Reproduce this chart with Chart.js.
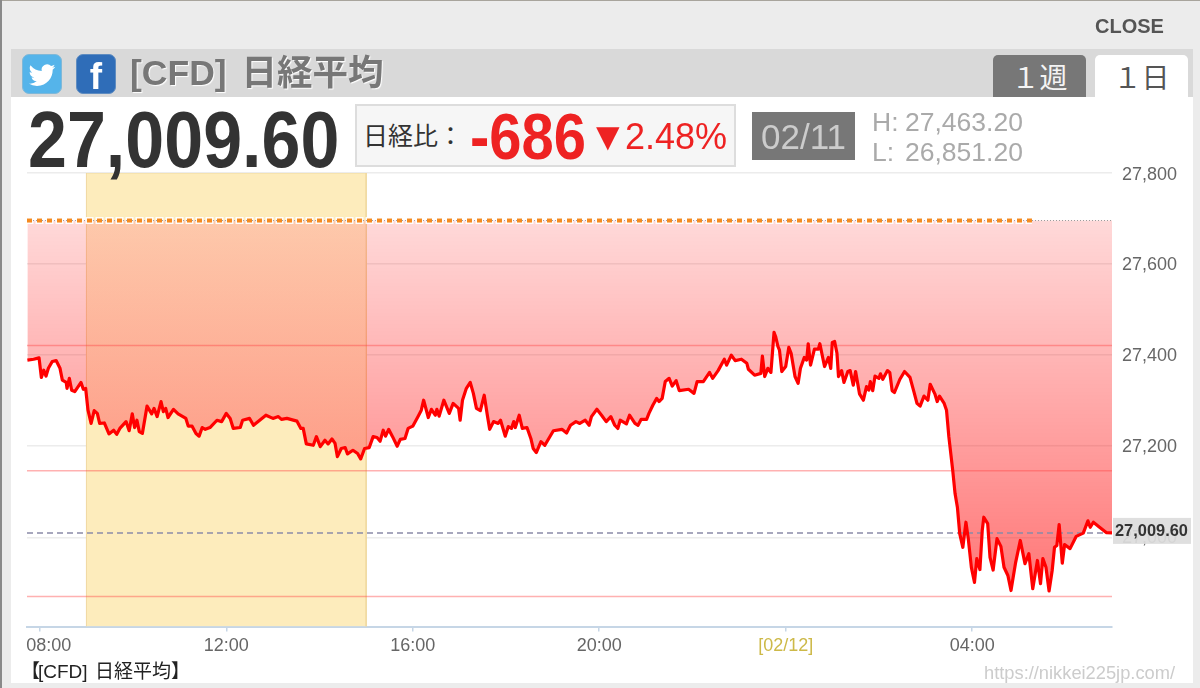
<!DOCTYPE html>
<html lang="ja">
<head>
<meta charset="utf-8">
<title>[CFD] 日経平均</title>
<script src="https://cdn.jsdelivr.net/npm/chart.js@4/dist/chart.umd.min.js"></script>
<style>
  html, body { margin: 0; padding: 0; background: #ececec; overflow: hidden; }
  body { width: 1200px; height: 688px; position: relative; font-family: "Liberation Sans", Arial, sans-serif; }
  .abs { position: absolute; white-space: nowrap; line-height: 1; }
  .jp { font-family: "Liberation Sans", "Noto Sans CJK JP", sans-serif; }
  #edgeTop { left: 0; top: 0; width: 1200px; height: 1px; background: #a8a49c; }
  #edgeLeft { left: 0; top: 0; width: 2px; height: 688px; background: #8a8a8a; }
  #strip { left: 11px; top: 49px; width: 1182px; height: 48px; background: #d9d9d9; }
  #panel { left: 11px; top: 97px; width: 1182px; height: 586px; background: #fff; }
  #chart { position: absolute; left: 0; top: 0; }
  #close { left: 1095px; top: 16px; font-size: 20px; font-weight: bold; color: #555; }
  .icon { width: 40px; height: 40px; top: 54px; border-radius: 7px; box-sizing: border-box; overflow: hidden; }
  #tw { left: 22px; background: #55b4ea; border: 1px solid #7fb8d8; }
  #fb { left: 76px; background: #2f6db8; border: 1px solid #5f8cc0; color: #fff; font-weight: bold; font-size: 37px; text-align: center; line-height: 44px; }
  #title { left: 130px; top: 56px; font-size: 35.5px; word-spacing: 5px; font-weight: bold; color: #777; text-shadow: 1px 1px 1px #fff; }
  .tab { top: 55px; width: 93px; height: 42px; border-radius: 5px 5px 0 0; font-size: 28px; text-align: center; line-height: 48px; }
  #tabWeek { left: 993px; background: #777; color: #f4f4f4; }
  #tabDay { left: 1095px; background: #fff; color: #555; }
  #price { left: 28px; top: 100px; font-size: 79px; font-weight: bold; color: #333; transform: scaleX(0.886); transform-origin: left top; }
  #diffBox { left: 355px; top: 104px; width: 381px; height: 63px; box-sizing: border-box; border: 2px solid #ddd; background: #f6f6f6; }
  #diffLabel { left: 363px; top: 124px; font-size: 25px; color: #333; }
  #diffVal { left: 470px; top: 105px; font-size: 64px; font-weight: bold; color: #ee2222; transform: scaleX(0.905); transform-origin: left top; }
  #diffArrow { left: 588px; top: 116px; font-size: 40px; color: #ee2222; }
  #diffPct { left: 625px; top: 119px; font-size: 36px; color: #ee2222; }
  #dateBox { left: 752px; top: 112px; width: 103px; height: 48px; background: #777; color: #ccc; font-size: 35px; text-align: center; line-height: 50px; }
  .hl { font-size: 26.5px; color: #aaa; }
  #foot { left: 21px; top: 662px; font-size: 19px; word-spacing: 2px; color: #222; }
  #foot span { margin-right: -2px; }
  #mark { left: 984px; top: 664px; font-size: 18.3px; color: #ccc; }
</style>
</head>
<body>
<div class="abs" id="edgeTop"></div>
<div class="abs" id="edgeLeft"></div>
<div class="abs" id="strip"></div>
<div class="abs" id="panel"></div>
<canvas id="chart" width="1200" height="688"></canvas>
<div class="abs" id="close">CLOSE</div>
<div class="abs icon" id="tw"><svg viewBox="-5 -6 34 34" width="38" height="38"><path fill="#fff" d="M23.95 4.57a10 10 0 0 1-2.83.79 4.93 4.93 0 0 0 2.16-2.72 9.86 9.86 0 0 1-3.13 1.2 4.92 4.92 0 0 0-8.38 4.48A13.98 13.98 0 0 1 1.67 3.15a4.92 4.92 0 0 0 1.52 6.57 4.9 4.9 0 0 1-2.23-.61v.06a4.92 4.92 0 0 0 3.95 4.83 4.9 4.9 0 0 1-2.22.08 4.93 4.93 0 0 0 4.6 3.42A9.87 9.87 0 0 1 0 19.54a13.94 13.94 0 0 0 7.55 2.21c9.05 0 14-7.5 14-14 0-.21 0-.42-.02-.63a10 10 0 0 0 2.42-2.55z"/></svg></div>
<div class="abs icon" id="fb">f</div>
<div class="abs jp" id="title">[CFD] 日経平均</div>
<div class="abs tab jp" id="tabWeek">１週</div>
<div class="abs tab jp" id="tabDay">１日</div>
<div class="abs" id="price">27,009.60</div>
<div class="abs" id="diffBox"></div>
<div class="abs jp" id="diffLabel">日経比：</div>
<div class="abs" id="diffVal">-686</div>
<div class="abs jp" id="diffArrow">▼</div>
<div class="abs" id="diffPct">2.48%</div>
<div class="abs" id="dateBox">02/11</div>
<div class="abs hl" style="left:872px;top:109px">H:</div>
<div class="abs hl" style="left:905px;top:109px">27,463.20</div>
<div class="abs hl" style="left:872px;top:139px">L:</div>
<div class="abs hl" style="left:905px;top:139px">26,851.20</div>
<div class="abs jp" id="foot"><span>【</span>[CFD] 日経平均】</div>
<div class="abs" id="mark">https://nikkei225jp.com/</div>

<script>
// minutes after 08:00 on 02/11
const times = [
  -16, -8, -1, 2, 5, 8, 11, 16, 21, 26, 29, 34, 35, 38, 41, 45, 53, 56, 59, 62,
  66, 70, 74, 77, 83, 89, 95, 99, 103, 111, 115, 119, 122, 125, 128, 132, 138, 144, 147, 151,
  156, 159, 162, 165, 172, 178, 188, 191, 196, 201, 205, 209, 213, 219, 228, 234, 240, 245, 249, 258,
  261, 270, 275, 283, 291, 300, 307, 311, 318, 331, 336, 339, 343, 352, 356, 361, 367, 371, 376, 380,
  383, 388, 393, 396, 403, 409, 413, 418, 424, 429, 434, 438, 442, 445, 449, 454, 460, 464, 470, 474,
  480, 487, 491, 494, 500, 504, 509, 511, 514, 520, 527, 532, 539, 541, 544, 549, 554, 558, 562, 567,
  572, 576, 579, 584, 590, 593, 599, 603, 607, 610, 612, 617, 621, 627, 632, 635, 639, 645, 650, 661,
  672, 678, 683, 690, 695, 702, 707, 710, 717, 723, 729, 735, 740, 744, 747, 755, 759, 766, 770, 774,
  781, 784, 789, 794, 797, 801, 805, 810, 814, 819, 823, 835, 842, 846, 854, 862, 866, 873, 881, 884,
  890, 895, 903, 910, 912, 920, 928, 930, 933, 937, 941, 945, 947, 950, 952, 955, 960, 964, 967, 972,
  976, 979, 984, 987, 989, 992, 997, 1002, 1004, 1010, 1015, 1018, 1020, 1023, 1026, 1028, 1032, 1035, 1040, 1043,
  1047, 1050, 1055, 1060, 1064, 1067, 1069, 1072, 1075, 1080, 1082, 1085, 1091, 1094, 1097, 1100, 1107, 1113, 1120, 1125,
  1129, 1133, 1138, 1143, 1146, 1152, 1155, 1158, 1164, 1167, 1170, 1175, 1178, 1181, 1184, 1188, 1192, 1195, 1199, 1203,
  1206, 1210, 1213, 1215, 1220, 1223, 1227, 1232, 1237, 1241, 1246, 1250, 1256, 1262, 1268, 1273, 1278, 1284, 1288, 1291,
  1295, 1299, 1303, 1306, 1309, 1312, 1316, 1319, 1326, 1334, 1343, 1349, 1352, 1356, 1364, 1373, 1380
];
const prices = [
  27389, 27391, 27394, 27351, 27367, 27354, 27371, 27386, 27388, 27371, 27345, 27340, 27327, 27349, 27323, 27320, 27340, 27325, 27327, 27279,
  27250, 27278, 27272, 27250, 27251, 27227, 27235, 27226, 27239, 27254, 27234, 27271, 27241, 27257, 27232, 27228, 27288, 27271, 27283, 27265,
  27298, 27276, 27283, 27263, 27281, 27271, 27261, 27244, 27244, 27228, 27222, 27241, 27237, 27241, 27257, 27254, 27272, 27261, 27239, 27241,
  27257, 27261, 27246, 27257, 27268, 27261, 27265, 27259, 27261, 27255, 27239, 27239, 27205, 27202, 27221, 27199, 27213, 27205, 27216, 27206,
  27177, 27195, 27197, 27183, 27191, 27184, 27172, 27195, 27197, 27221, 27219, 27211, 27235, 27222, 27237, 27221, 27200, 27215, 27217, 27239,
  27244, 27266, 27279, 27301, 27263, 27281, 27268, 27281, 27266, 27301, 27272, 27294, 27283, 27257, 27301, 27327, 27340, 27316, 27283, 27278,
  27312, 27268, 27237, 27254, 27250, 27257, 27222, 27243, 27239, 27254, 27241, 27268, 27239, 27241, 27217, 27195, 27186, 27210, 27202, 27234,
  27237, 27229, 27246, 27254, 27250, 27257, 27246, 27265, 27281, 27268, 27254, 27265, 27246, 27239, 27257, 27249, 27268, 27250, 27246, 27259,
  27259, 27272, 27290, 27305, 27298, 27305, 27342, 27349, 27332, 27344, 27322, 27325, 27316, 27342, 27342, 27362, 27349, 27366, 27391, 27378,
  27400, 27388, 27391, 27382, 27369, 27356, 27360, 27398, 27353, 27371, 27362, 27450, 27441, 27419, 27411, 27364, 27375, 27417, 27404, 27353,
  27338, 27371, 27395, 27389, 27425, 27378, 27413, 27413, 27425, 27375, 27395, 27371, 27428, 27430, 27404, 27353, 27366, 27340, 27364, 27366,
  27334, 27364, 27315, 27301, 27331, 27323, 27342, 27322, 27354, 27349, 27359, 27347, 27366, 27362, 27322, 27318, 27347, 27364, 27351, 27320,
  27294, 27288, 27310, 27301, 27336, 27315, 27298, 27310, 27294, 27279, 27221, 27147, 27096, 27066, 27008, 26978, 27033, 26997, 26934, 26901,
  26953, 26929, 27015, 27044, 27030, 26956, 26928, 26997, 26980, 26934, 26916, 26883, 26945, 26993, 26942, 26964, 26887, 26949, 26898, 26953,
  26934, 26882, 26927, 26978, 26982, 27028, 26943, 26984, 26975, 27002, 27009, 27036, 27022, 27033, 27022, 27010, 27009.6
];

const tickMinutes = [0, 240, 480, 720, 960, 1200];
const tickLabels = ["08:00", "12:00", "16:00", "20:00", "[02/12]", "04:00"];
const yTicks = [27000, 27200, 27400, 27600, 27800];

const axisStart = -16.5;
const axisEnd = 1380;
const axisLow = 26804;
const axisHigh = 27800;

const lastPrice = 27009.6;
const prevClose = 27695.6;
const closeMarkEnd = 1277;
const levels = [27421, 27146, 26870];
const sessionStart = 60;
const sessionEnd = 420;

function flat(value, from, to) {
  return [{ x: from, y: value }, { x: to, y: value }];
}

function areaGradient(context) {
  const { chart } = context;
  if (!chart.chartArea) return "rgba(255,0,0,0.3)";
  const y = chart.scales.y;
  const g = chart.ctx.createLinearGradient(0, y.getPixelForValue(prevClose), 0, y.getPixelForValue(levels[2]));
  g.addColorStop(0, "rgba(255,0,0,0.15)");
  g.addColorStop(1, "rgba(255,0,0,0.54)");
  return g;
}

// lightens the red area only inside the session band
function sessionTint(context) {
  const { chart } = context;
  if (!chart.chartArea) return "rgba(0,0,0,0)";
  const x = chart.scales.x;
  const x0 = x.getPixelForValue(sessionStart);
  const x1 = x.getPixelForValue(sessionEnd);
  const g = chart.ctx.createLinearGradient(x0, 0, x1, 0);
  g.addColorStop(0, "rgba(255,200,200,0)");
  g.addColorStop(0.001, "rgba(255,200,200,0.27)");
  g.addColorStop(0.999, "rgba(255,200,200,0.27)");
  g.addColorStop(1, "rgba(255,200,200,0)");
  return g;
}

const lineDefaults = { pointRadius: 0, fill: false, tension: 0, borderWidth: 1 };
const series = times.map((t, i) => ({ x: t, y: prices[i] }));

// last price tag on the axis, tick labels nudged to where the original has them
const axisExtras = {
  id: "axisExtras",
  beforeDraw(chart) {
    const xItems = chart.scales.x.getLabelItems();
    if (xItems.length && !xItems[0].nudged) {
      xItems[0].options.translation[0] += 9;
      xItems[0].nudged = true;
    }
    chart.scales.y.getLabelItems().forEach((item) => {
      if (!item.nudged) {
        item.options.translation[1] += item.label === "27,800" ? 2.5 : 1;
        item.nudged = true;
      }
    });
  },
  afterDraw(chart) {
    const { ctx, scales } = chart;
    const py = scales.y.getPixelForValue(lastPrice);
    ctx.save();
    ctx.fillStyle = "rgba(221,221,221,0.93)";
    ctx.fillRect(1113, py - 15, 78, 26);
    ctx.fillStyle = "#333";
    ctx.font = 'bold 16.4px "Liberation Sans"';
    ctx.textBaseline = "middle";
    ctx.fillText(lastPrice.toLocaleString("en-US", { minimumFractionDigits: 2 }), 1115, py - 1);
    ctx.restore();
  },
};

new Chart(document.getElementById("chart"), {
  type: "line",
  plugins: [axisExtras],
  data: {
    datasets: [
      {
        ...lineDefaults,
        label: "session",
        order: 11,
        data: [
          { x: sessionStart, y: axisLow },
          { x: sessionStart, y: axisHigh },
          { x: sessionEnd, y: axisHigh },
          { x: sessionEnd, y: axisLow },
        ],
        borderColor: "#f0d9a0",
        backgroundColor: "#fdecbc",
        fill: "start",
      },
      {
        ...lineDefaults,
        label: "area",
        order: 10,
        data: series,
        borderColor: "rgba(0,0,0,0)",
        borderWidth: 0,
        backgroundColor: areaGradient,
        fill: { value: prevClose },
      },
      {
        ...lineDefaults,
        label: "area tint",
        order: 9,
        data: series,
        borderColor: "rgba(0,0,0,0)",
        borderWidth: 0,
        backgroundColor: sessionTint,
        fill: { value: prevClose },
      },
      {
        ...lineDefaults,
        label: "[CFD] 日経平均",
        order: 1,
        data: series,
        borderColor: "#ff0000",
        borderWidth: 3.2,
        borderJoinStyle: "round",
      },
      ...levels.map((value) => ({
        ...lineDefaults,
        label: "level",
        order: 3,
        data: flat(value, axisStart, axisEnd),
        borderColor: "rgba(255,70,70,0.42)",
        borderWidth: 1.4,
      })),
      {
        ...lineDefaults,
        label: "last",
        order: 2,
        data: flat(lastPrice, axisStart, axisEnd),
        borderColor: "#8a8aa8",
        borderWidth: 1.5,
        borderDash: [6, 4],
      },
      {
        ...lineDefaults,
        label: "close halo",
        order: 8,
        data: flat(prevClose, axisStart, closeMarkEnd),
        borderColor: "rgba(255,255,255,0.9)",
        borderWidth: 7,
        borderDash: [8, 2],
        borderDashOffset: 1.5,
      },
      {
        ...lineDefaults,
        label: "close dots",
        order: 7,
        data: flat(prevClose, axisStart, axisEnd),
        borderColor: "#999",
        borderWidth: 1,
        borderDash: [1, 2],
      },
      {
        ...lineDefaults,
        label: "close",
        order: 5,
        data: flat(prevClose, axisStart, closeMarkEnd),
        borderColor: "#f58a1f",
        borderWidth: 4,
        borderDash: [5, 5],
      },
    ],
  },
  options: {
    responsive: false,
    animation: false,
    layout: { padding: { left: 27, top: 173 } },
    plugins: { legend: { display: false }, tooltip: { enabled: false } },
    scales: {
      x: {
        type: "linear",
        min: axisStart,
        max: axisEnd,
        afterBuildTicks(scale) {
          scale.ticks = tickMinutes.map((value) => ({ value }));
        },
        afterFit(scale) {
          scale.height = 61.5;
        },
        border: { color: "#c6d6e6", width: 2 },
        grid: { display: true, drawOnChartArea: false, color: "#c6d6e6", tickLength: 5, lineWidth: 1.5 },
        ticks: {
          maxRotation: 0,
          autoSkip: false,
          padding: 4,
          font: { family: '"Liberation Sans"', size: 18 },
          color: (ctx) => (ctx.tick && ctx.tick.value === 960 ? "#cdb948" : "#666"),
          callback: (value) => tickLabels[tickMinutes.indexOf(value)],
        },
      },
      y: {
        position: "right",
        min: axisLow,
        max: axisHigh,
        afterBuildTicks(scale) {
          scale.ticks = yTicks.map((value) => ({ value }));
        },
        afterFit(scale) {
          scale.width = 88;
        },
        border: { display: false },
        grid: { color: "#ececec", lineWidth: 1.5, drawTicks: false },
        ticks: {
          padding: 10,
          font: { family: '"Liberation Sans"', size: 18 },
          color: "#666",
          callback: (value) => value.toLocaleString("en-US"),
        },
      },
    },
  },
});
</script>
</body>
</html>
